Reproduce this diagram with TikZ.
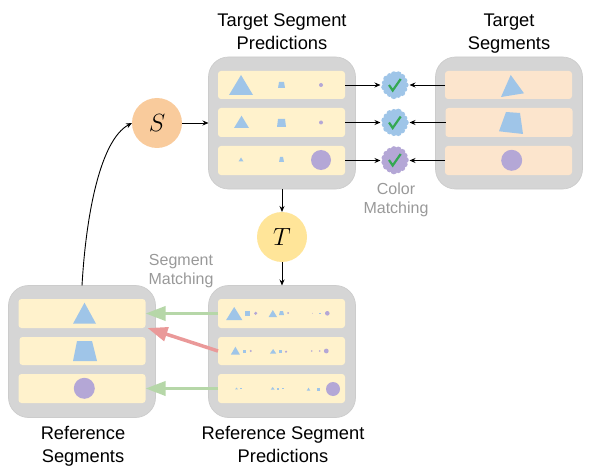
\documentclass[tikz,border=0pt]{standalone}
\usepackage{fontspec}
\setmainfont{Liberation Sans}
\usetikzlibrary{arrows.meta}
\definecolor{boxgray}{HTML}{D5D5D5}
\definecolor{boxedge}{HTML}{CCCCCC}
\definecolor{rowyellow}{HTML}{FFF2CC}
\definecolor{rowpeach}{HTML}{FCE5CD}
\definecolor{shblue}{HTML}{9FC5E8}
\definecolor{shpurple}{HTML}{B4A7D6}
\definecolor{sorange}{HTML}{F9CB9C}
\definecolor{tyellow}{HTML}{FFE599}
\definecolor{agreen}{HTML}{B6D7A8}
\definecolor{ared}{HTML}{EA9999}
\definecolor{chk}{HTML}{34A853}
\definecolor{lblgray}{HTML}{999999}
\tikzset{
  panel/.style={draw=boxedge,line width=.7pt,fill=boxgray,rounded corners=20pt,minimum width=147pt,minimum height=132pt,inner sep=0pt,outer sep=0pt},
  rowbase/.style={rounded corners=3pt,minimum width=127pt,inner sep=0pt,outer sep=0pt},
  yrow/.style={rowbase,fill=rowyellow},
  prow/.style={rowbase,fill=rowpeach},
  flow/.style={-{Stealth[length=6pt,width=5pt]},line width=.9pt,black},
  title/.style={align=center,font=\fontsize{18.3}{23}\selectfont,text=black},
  glabel/.style={align=center,font=\fontsize{16}{19}\selectfont,text=lblgray},
  opcircle/.style={circle,minimum size=50pt,inner sep=0pt,outer sep=0pt,font=\fontsize{23}{23}\selectfont},
  blobanchor/.style={circle,minimum size=29pt,inner sep=0pt,outer sep=0pt},
  good/.style={-{Triangle[length=20pt,width=14pt]},line width=3.5pt,agreen},
  bad/.style={-{Triangle[length=20pt,width=14pt]},line width=3.5pt,ared},
  tick/.style={draw=chk,line width=2.2pt}
}
% cloud-like blob: a core disc with small bumps round its rim
\newcommand{\blobat}[3]{%
  \begin{scope}[shift={(#1)}]
    \fill[#2] (0,0) circle[radius=11.5];
    \foreach \a/\r in {#3} {\fill[#2] (\a:10.8) circle[radius=\r];}
    \draw[tick] (-6,0) -- (-2.3,5.5) -- (5.7,-6);
  \end{scope}
}
\newcommand{\tri}[4]{\fill[shblue] (#1,#2) -- (#3,#4) -- ({2*#1-#3},#4) -- cycle;}
\newcommand{\trap}[6]{\fill[shblue] (#1,#2) -- (#3,#2) -- (#6,#5) -- (#4,#5) -- cycle;}
\newcommand{\dotp}[3]{\fill[shpurple] (#1,#2) circle[radius=#3];}
\begin{document}
\begin{tikzpicture}[x=1pt,y=-1pt]
\useasboundingbox (0,0) rectangle (597,476);
% panels
\node[panel] (tsp) at (282,123) {};
\node[panel] (ts) at (509,123) {};
\node[panel] (rsp) at (282,351.5) {};
\node[panel] (rs) at (82,351.5) {};
% rows
\node[yrow,minimum height=28pt] (tsp1) at (281.5,85) {};
\node[yrow,minimum height=29pt] (tsp2) at (281.5,122.5) {};
\node[yrow,minimum height=29pt] (tsp3) at (281.5,160.5) {};
\node[prow,minimum height=28pt] (ts1) at (508.5,85) {};
\node[prow,minimum height=29pt] (ts2) at (509,122.5) {};
\node[prow,minimum height=29pt] (ts3) at (508.5,160.5) {};
\node[yrow,minimum height=29pt] (rsp1) at (281.5,313.5) {};
\node[yrow,minimum height=28pt] (rsp2) at (281.5,351) {};
\node[yrow,minimum height=29pt] (rsp3) at (281.5,388.5) {};
\node[yrow,minimum height=29pt] (rs1) at (82,313.5) {};
\node[yrow,minimum height=28pt,minimum width=126pt] (rs2) at (82.5,351) {};
\node[yrow,minimum height=29pt] (rs3) at (82,388.5) {};
% operators
\node[opcircle,fill=sorange] (S) at (157,123) {$S$};
\node[opcircle,fill=tyellow] (T) at (282,237) {$T$};
% blob anchors
\node[blobanchor] (b1) at (395,85) {};
\node[blobanchor] (b2) at (395,122.5) {};
\node[blobanchor] (b3) at (395,160.5) {};
% shapes: target segment predictions
\tri{241}{75}{253}{95}
\trap{279}{82}{284}{278}{88}{285}
\dotp{321}{85}{2}
\tri{241.5}{115.7}{249}{128}
\trap{278}{119}{285}{277}{127}{286}
\dotp{321}{122.5}{2}
\tri{241}{157.5}{243.5}{161.5}
\trap{280}{157}{283}{279}{162}{284}
\dotp{321}{160}{10}
% shapes: target segments
\fill[shblue] (510.7,75) -- (524,93.3) -- (501,97) -- cycle;
\fill[shblue] (506,112) -- (520,113) -- (523,134) -- (499,131.3) -- cycle;
\dotp{511.7}{160.3}{10.5}
% shapes: reference segment predictions
\tri{234.2}{307}{242.3}{320}
\fill[shblue] (245,311) rectangle (250,315.7);
\dotp{255.7}{313.3}{1.7}
\tri{272.8}{310}{277}{317}
\trap{280}{311}{283}{279}{315}{284}
\dotp{288}{313}{1}
\dotp{312.5}{313.3}{.4}
\fill[shblue] (319,313) rectangle (321.3,314);
\dotp{327.3}{313.3}{2.3}
\tri{235.4}{346.7}{240}{354.7}
\fill[shblue] (243.3,350) rectangle (246,353);
\dotp{250.7}{351}{1.2}
\tri{273.1}{349}{276.3}{353.7}
\fill[shblue] (279,350) rectangle (282,353);
\dotp{286}{351.7}{1.2}
\dotp{311.7}{351}{.8}
\dotp{319.7}{351}{.8}
\dotp{326.3}{351}{2.4}
\tri{236.5}{387.7}{238}{389.3}
\fill[shblue] (239.7,388) rectangle (242.3,389);
\tri{272.7}{387}{274.7}{389.7}
\fill[shblue] (277,388) rectangle (279.3,389.8);
\fill[shblue] (281.7,388) rectangle (284.3,389);
\tri{308.5}{387.7}{310.3}{390.7}
\fill[shblue] (317,388) rectangle (319.7,390.7);
\dotp{333}{389}{7}
% shapes: reference segments
\tri{84.5}{302.7}{96}{323.7}
\trap{77}{341}{92}{73}{361}{97}
\dotp{84.3}{388.3}{10.5}
% blobs
\blobat{395,85}{shblue}{0/2.8,24/2.4,48/3,72/2.6,96/3.4,120/2.6,144/2.8,168/3.2,192/2.6,216/3,240/2.5,264/3,288/3.4,312/3,336/2.6}
\blobat{395,122.5}{shblue}{0/3,24/2.5,48/2.8,72/3.3,96/2.8,120/2.6,144/3,168/2.7,192/3.1,216/2.6,240/3,264/2.8,288/3.6,312/2.9,336/2.5}
\blobat{395,160}{shpurple}{0/3,24/2.8,48/3,72/2.9,96/3.6,120/3,144/3.3,168/3.1,192/2.9,216/2.8,240/2.7,264/3.1,288/3.2,312/3.1,336/2.7}
% connectors
\draw[flow] (tsp1.east) -- (b1.west);
\draw[flow] (tsp2.east) -- (b2.west);
\draw[flow] (tsp3.east) -- (b3.west);
\draw[flow] (ts1.west) -- (b1.east);
\draw[flow] (ts2.west) -- (b2.east);
\draw[flow] (ts3.west) -- (b3.east);
\draw[flow] (S.east) -- (tsp.west);
\draw[flow] (tsp.south) -- (T.north);
\draw[flow] (T.south) -- (rsp.north);
\draw[flow] (rs.north) .. controls +(4,-70) and +(-32,17) .. (S.west);
\draw[good] (rsp1.west) -- (rs1.east);
\draw[good] (rsp3.west) -- (rs3.east);
\draw[bad] (rsp2.west) -- ([xshift=2pt]rs1.south east);
% labels
\node[title] (l1) at (282,31.5) {Target Segment\\Predictions};
\node[title] (l2) at (509,33.5) {Target\\Segments};
\node[title] (l3) at (83,446.5) {Reference\\Segments};
\node[title] (l4) at (283,444.5) {Reference Segment\\Predictions};
\node[glabel] (l5) at (396,199.5) {Color\\Matching};
\node[glabel] (l6) at (181,271.5) {Segment\\Matching};
\end{tikzpicture}
\end{document}
